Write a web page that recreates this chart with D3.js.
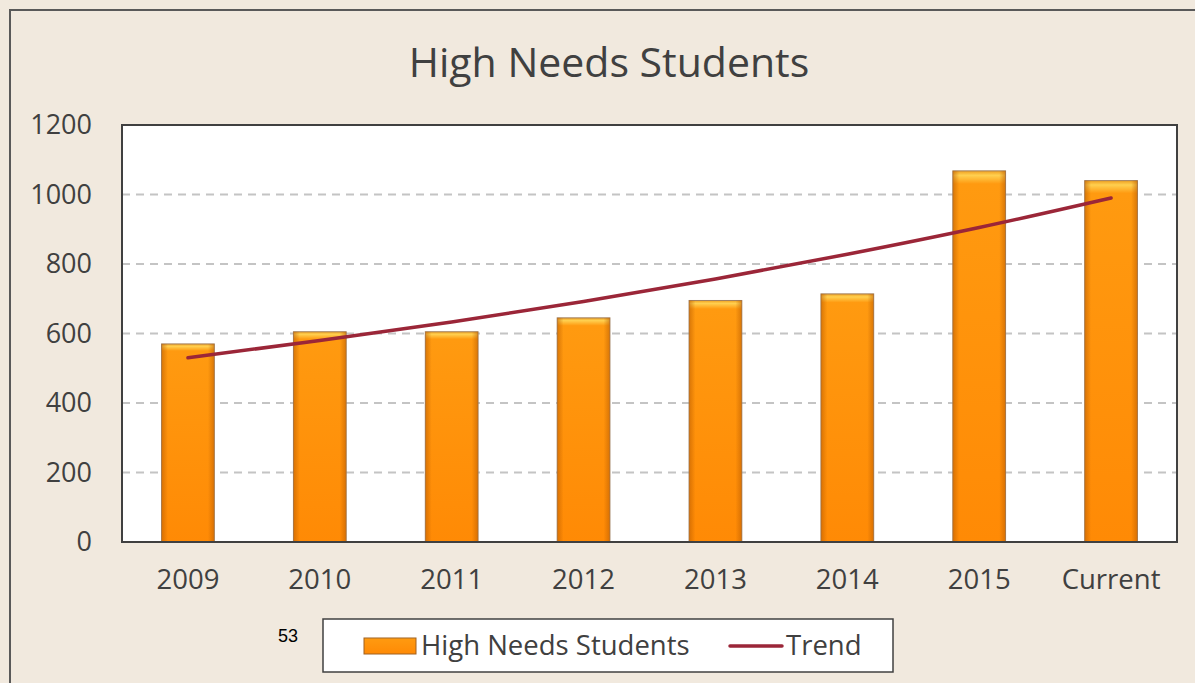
<!DOCTYPE html>
<html>
<head>
<meta charset="utf-8">
<script src="https://cdn.jsdelivr.net/npm/d3@7"></script>
<style>
  body { margin: 0; background: #f1e9de; }
  svg { display: block; }
</style>
</head>
<body>
<div id="chart"></div>
<script>
const categories = ['2009', '2010', '2011', '2012', '2013', '2014', '2015', 'Current'];
const students = [570, 605, 605, 645, 695, 714, 1068, 1040];
const trend = [530, 580, 633, 692, 757, 828, 905, 990];
const yTicks = [0, 200, 400, 600, 800, 1000, 1200];

const width = 1195, height = 683;
const margin = { top: 125, right: 18, bottom: 141, left: 122 };
const innerWidth = width - margin.left - margin.right;
const innerHeight = height - margin.top - margin.bottom;
const font = "'Open Sans', 'Noto Sans', sans-serif";

const svg = d3.select('#chart').append('svg')
  .attr('width', width)
  .attr('height', height);

const defs = svg.append('defs');
// bar fill: orange body, light top edge, darker sides
const vGrad = defs.append('linearGradient').attr('id', 'barV')
  .attr('x1', 0).attr('x2', 0).attr('y1', 0).attr('y2', 1);
vGrad.append('stop').attr('offset', '0%').attr('stop-color', '#f0a020');
vGrad.append('stop').attr('offset', '1.2%').attr('stop-color', '#ffd050');
vGrad.append('stop').attr('offset', '3.5%').attr('stop-color', '#ff9a10');
vGrad.append('stop').attr('offset', '100%').attr('stop-color', '#ff8a05');
const hGrad = defs.append('linearGradient').attr('id', 'barH')
  .attr('x1', 0).attr('x2', 1).attr('y1', 0).attr('y2', 0);
hGrad.append('stop').attr('offset', '0%').attr('stop-color', '#b85a00').attr('stop-opacity', 0.55);
hGrad.append('stop').attr('offset', '12%').attr('stop-color', '#b85a00').attr('stop-opacity', 0);
hGrad.append('stop').attr('offset', '88%').attr('stop-color', '#b85a00').attr('stop-opacity', 0);
hGrad.append('stop').attr('offset', '100%').attr('stop-color', '#b85a00').attr('stop-opacity', 0.55);

// outer frame (right and bottom edges run off the page)
svg.append('path')
  .attr('d', `M10,${height}V10H${width}`)
  .attr('fill', 'none')
  .attr('stroke', '#595959')
  .attr('stroke-width', 2);

svg.append('text')
  .attr('x', 609).attr('y', 77)
  .attr('text-anchor', 'middle')
  .attr('font-family', font)
  .attr('font-size', 41)
  .attr('fill', '#404040')
  .text('High Needs Students');

const g = svg.append('g')
  .attr('transform', `translate(${margin.left},${margin.top})`);

const x = d3.scaleBand()
  .domain(categories)
  .range([0, innerWidth])
  .paddingInner(0.6)
  .paddingOuter(0.3);

const y = d3.scaleLinear()
  .domain([0, 1200])
  .range([innerHeight, 0]);

g.append('rect')
  .attr('width', innerWidth).attr('height', innerHeight)
  .attr('fill', '#ffffff');

// gridlines
g.selectAll('.grid')
  .data(yTicks.filter(t => t > 0 && t < 1200))
  .enter().append('line')
  .attr('x1', 0).attr('x2', innerWidth)
  .attr('y1', d => y(d)).attr('y2', d => y(d))
  .attr('stroke', '#c4c4c4')
  .attr('stroke-width', 2)
  .attr('stroke-dasharray', '8 6');

// bars
const bars = g.selectAll('.bar')
  .data(categories.map((c, i) => ({ cat: c, value: students[i] })))
  .enter().append('g');
bars.append('rect')
  .attr('x', d => x(d.cat))
  .attr('y', d => y(d.value))
  .attr('width', x.bandwidth())
  .attr('height', d => innerHeight - y(d.value))
  .attr('fill', 'url(#barV)')
  .attr('stroke', '#a08060')
  .attr('stroke-width', 1);
bars.append('rect')
  .attr('x', d => x(d.cat))
  .attr('y', d => y(d.value))
  .attr('width', x.bandwidth())
  .attr('height', d => innerHeight - y(d.value))
  .attr('fill', 'url(#barH)');

// trend line
const line = d3.line()
  .x((d, i) => x(categories[i]) + x.bandwidth() / 2)
  .y(d => y(d))
  .curve(d3.curveMonotoneX);
g.append('path')
  .datum(trend)
  .attr('d', line)
  .attr('fill', 'none')
  .attr('stroke', '#9b2638')
  .attr('stroke-width', 3.5)
  .attr('stroke-linecap', 'round');

// plot frame
g.append('rect')
  .attr('width', innerWidth).attr('height', innerHeight)
  .attr('fill', 'none')
  .attr('stroke', '#404040')
  .attr('stroke-width', 2);

// axes
const yAxis = g.append('g')
  .call(d3.axisLeft(y).tickValues(yTicks).tickFormat(d3.format('d')).tickSize(0).tickPadding(30));
yAxis.select('.domain').remove();
yAxis.selectAll('text')
  .attr('font-family', font)
  .attr('font-size', 27)
  .attr('fill', '#404040');

const xAxis = g.append('g')
  .attr('transform', `translate(0,${innerHeight})`)
  .call(d3.axisBottom(x).tickSize(0).tickPadding(27));
xAxis.select('.domain').remove();
xAxis.selectAll('text')
  .attr('font-family', font)
  .attr('font-size', 27.5)
  .attr('fill', '#404040');

// page number
svg.append('text')
  .attr('x', 288).attr('y', 642)
  .attr('text-anchor', 'middle')
  .attr('font-family', 'Liberation Sans, Arial, sans-serif')
  .attr('font-size', 18)
  .attr('fill', '#000')
  .text('53');

// legend
const legend = svg.append('g');
legend.append('rect')
  .attr('x', 323).attr('y', 619)
  .attr('width', 570).attr('height', 53)
  .attr('fill', '#ffffff')
  .attr('stroke', '#404040')
  .attr('stroke-width', 1.5);
legend.append('rect')
  .attr('x', 364).attr('y', 638)
  .attr('width', 52).attr('height', 16)
  .attr('fill', 'url(#barV)')
  .attr('stroke', '#a06020')
  .attr('stroke-width', 1);
legend.append('text')
  .attr('x', 421).attr('y', 655)
  .attr('font-family', font)
  .attr('font-size', 27.5)
  .attr('fill', '#404040')
  .text('High Needs Students');
legend.append('line')
  .attr('x1', 730).attr('x2', 782)
  .attr('y1', 646).attr('y2', 646)
  .attr('stroke', '#9b2638')
  .attr('stroke-width', 3.5)
  .attr('stroke-linecap', 'round');
legend.append('text')
  .attr('x', 786).attr('y', 655)
  .attr('font-family', font)
  .attr('font-size', 27.5)
  .attr('fill', '#404040')
  .text('Trend');
</script>
</body>
</html>
